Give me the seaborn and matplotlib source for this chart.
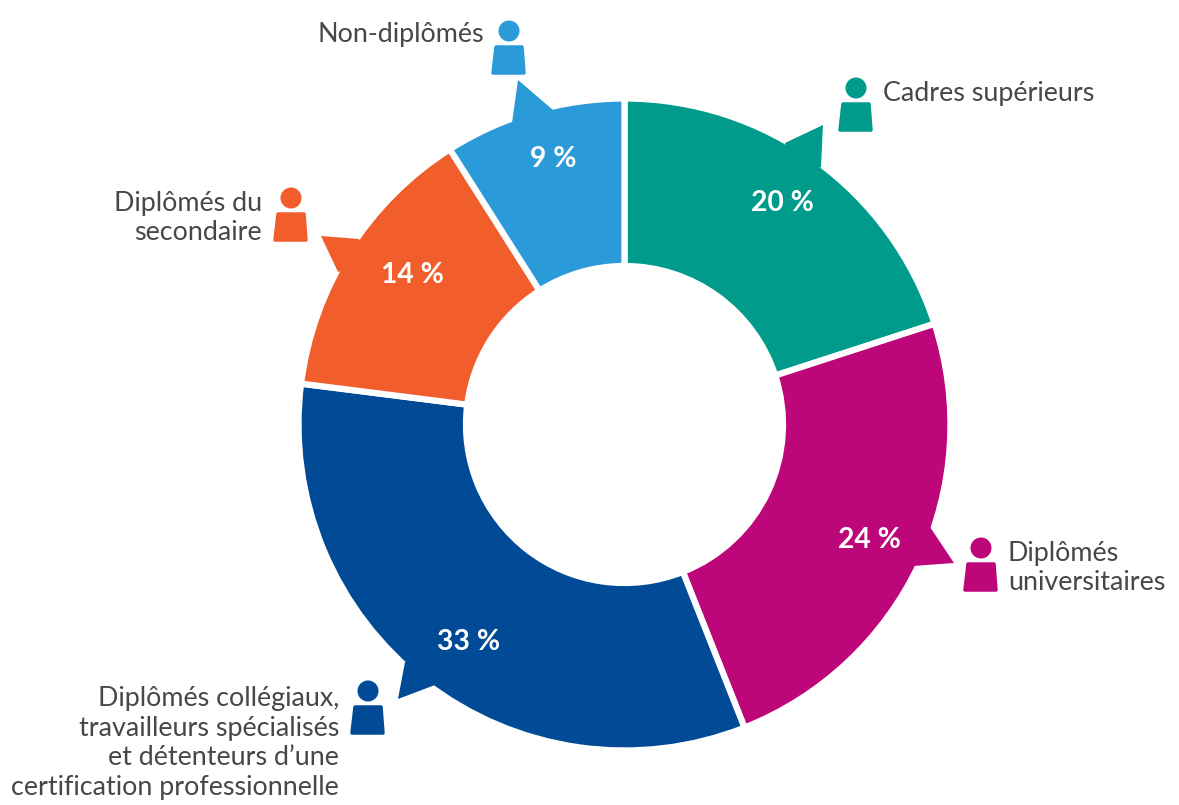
import matplotlib
matplotlib.use("Agg")
import matplotlib.pyplot as plt
import seaborn as sns
from matplotlib.patches import Circle, Polygon

# data
categories = [
    "Cadres supérieurs",
    "Diplômés\nuniversitaires",
    "Diplômés collégiaux,\ntravailleurs spécialisés\net détenteurs d’une\ncertification professionnelle",
    "Diplômés du\nsecondaire",
    "Non-diplômés",
]
values = [20, 24, 33, 14, 9]
colors = ["#009B8A", "#BC067A", "#004A96", "#F25D2C", "#2A9AD8"]

# layout, all in image pixels (y going down)
W, H = 1179, 805
cx, cy = 624.5, 424.5
pct_pos = [(782, 203), (869, 540), (469, 642), (412, 275), (553, 159)]
label_pos = [(883, 94), (1008, 568), (339, 743), (262, 218), (484, 35)]
label_ha = ["left", "left", "right", "right", "right"]
head_pos = [(856, 88), (981, 548), (368, 691), (291, 198), (509, 31)]
pointers = [
    [(785, 143), (823, 125), (821, 167), (800, 175)],
    [(930, 527), (954, 563), (913, 566), (905, 540)],
    [(405, 662), (398, 699), (435, 685), (430, 660)],
    [(359, 239), (321, 236), (338, 272), (365, 265)],
    [(512, 123), (518, 80), (553, 110), (550, 130)],
]


def px(x, y):
    return x, H - y


sns.set_theme(style="white")
plt.rcParams["font.family"] = ["Lato", "DejaVu Sans"]
palette = sns.color_palette(colors)

fig = plt.figure(figsize=(W / 100, H / 100), dpi=100)
ax = fig.add_axes([0, 0, 1, 1])

# donut, the white edge eats half the line width so radius is a bit bigger
ax.pie(
    values,
    colors=palette,
    startangle=90,
    counterclock=False,
    center=px(cx, cy),
    radius=326,
    frame=True,
    wedgeprops={"width": 167.5, "edgecolor": "white", "linewidth": 4.5},
)
ax.set_xlim(0, W)
ax.set_ylim(0, H)
ax.set_aspect("equal")
ax.axis("off")

for i, cat in enumerate(categories):
    col = palette[i]
    # speech bubble pointer
    ax.add_patch(Polygon([px(*p) for p in pointers[i]], closed=True, fc=col, ec="none", zorder=3))

    # person icon
    hx, hy = head_pos[i]
    ax.add_patch(Circle(px(hx, hy), 10.5, fc=col, ec="none", zorder=3))
    body = [(hx - 13, hy + 16), (hx + 13, hy + 16), (hx + 15, hy + 42), (hx - 16, hy + 42)]
    ax.add_patch(Polygon([px(*p) for p in body], closed=True, fc=col, ec=col, lw=2.5, joinstyle="round", zorder=3))

    tx, ty = px(*label_pos[i])
    ax.text(tx, ty, cat, ha=label_ha[i], va="center", ma=label_ha[i], fontsize=19.4,
            color="#474747", linespacing=1.235, zorder=4)

    tx, ty = px(*pct_pos[i])
    ax.text(tx, ty, f"{values[i]} %", ha="center", va="center", fontsize=20.3,
            fontweight="bold", color="white", zorder=4)

fig.savefig("out.png", dpi=100, facecolor="white")
plt.close(fig)
